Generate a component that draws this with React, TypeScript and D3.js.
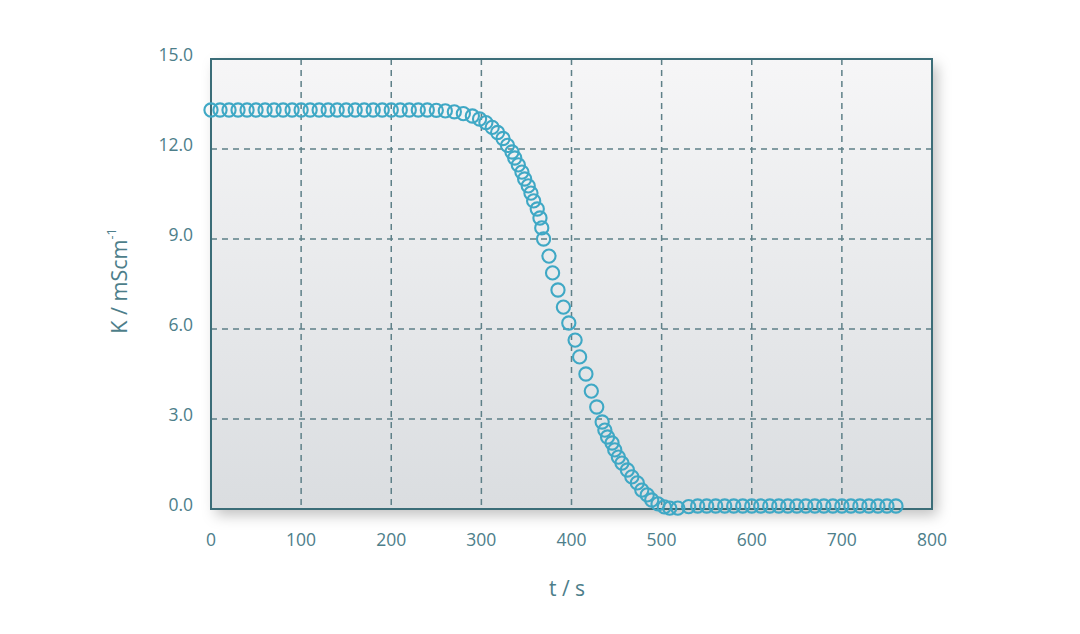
import React from "react";
import * as d3 from "d3";

const xTicks = [0, 100, 200, 300, 400, 500, 600, 700, 800];
const yTicks = [0, 3, 6, 9, 12, 15];

const times = [
  0, 10, 20, 30, 40, 50, 60, 70, 80, 90, 100, 110, 120, 130, 140, 150, 160, 170, 180, 190, 200,
  210, 220, 230, 240, 250, 260, 270, 280, 290, 298, 305, 312, 318, 324, 329, 334, 337, 341, 345,
  348, 352, 355, 358, 362, 365, 367, 369, 375, 379, 385, 391, 397, 404, 409, 416, 422, 428, 434,
  437, 440, 445, 448, 452, 456, 462, 467, 473, 478, 484, 489, 496, 503, 509, 518, 530, 540, 550,
  560, 570, 580, 590, 600, 610, 620, 630, 640, 650, 660, 670, 680, 690, 700, 710, 720, 730, 740,
  750, 760,
];
const conductivity = [
  13.3, 13.3, 13.3, 13.3, 13.3, 13.3, 13.3, 13.3, 13.3, 13.3, 13.3, 13.3, 13.3, 13.3, 13.3, 13.3,
  13.3, 13.3, 13.3, 13.3, 13.3, 13.3, 13.3, 13.3, 13.3, 13.29, 13.27, 13.24, 13.18, 13.1, 13.0,
  12.88, 12.72, 12.55, 12.35, 12.12, 11.9, 11.7, 11.47, 11.23, 11.0, 10.77, 10.53, 10.27, 10.0, 9.7,
  9.37, 9.0, 8.43, 7.87, 7.3, 6.73, 6.2, 5.63, 5.07, 4.5, 3.93, 3.4, 2.9, 2.63, 2.4, 2.2, 1.97,
  1.73, 1.53, 1.3, 1.07, 0.87, 0.63, 0.47, 0.3, 0.17, 0.07, 0.03, 0.03, 0.08, 0.1, 0.1, 0.1, 0.1,
  0.1, 0.1, 0.1, 0.1, 0.1, 0.1, 0.1, 0.1, 0.1, 0.1, 0.1, 0.1, 0.1, 0.1, 0.1, 0.1, 0.1, 0.1, 0.1,
];

const W = 1080;
const H = 634;
const left = 211;
const right = 932;
const top = 59;
const bottom = 509;

const textColor = "#4d7e8a";
const gridColor = "#5e8088";
const borderColor = "#3b6d78";
const pointColor = "#3fa8c5";
const font = "'Open Sans', 'Noto Sans', sans-serif";

export default function App() {
  const x = d3.scaleLinear().domain([0, 800]).range([left, right]);
  const y = d3.scaleLinear().domain([0, 15]).range([bottom, top]);
  const pts = times.map((t, i) => ({ t, k: conductivity[i] }));

  return (
    <svg width={W} height={H} style={{ display: "block", position: "absolute", left: 0, top: 0 }}>
      <defs>
        <linearGradient id="bg" x1="0" y1="0" x2="0" y2="1">
          <stop offset="0" stopColor="#f6f6f7" />
          <stop offset="1" stopColor="#dadde0" />
        </linearGradient>
        <filter id="shadow" x="-10%" y="-10%" width="125%" height="130%">
          <feDropShadow dx="5" dy="6" stdDeviation="7" floodColor="#000" floodOpacity="0.25" />
        </filter>
      </defs>
      <rect x={0} y={0} width={W} height={H} fill="#ffffff" />
      <rect
        x={left}
        y={top}
        width={right - left}
        height={bottom - top}
        fill="url(#bg)"
        filter="url(#shadow)"
      />
      {xTicks.slice(1, -1).map((t) => (
        <line
          key={"gx" + t}
          x1={x(t)}
          x2={x(t)}
          y1={top}
          y2={bottom}
          stroke={gridColor}
          strokeWidth={1.5}
          strokeDasharray="6,5"
        />
      ))}
      {yTicks.slice(1, -1).map((v) => (
        <line
          key={"gy" + v}
          x1={left}
          x2={right}
          y1={y(v)}
          y2={y(v)}
          stroke={gridColor}
          strokeWidth={1.5}
          strokeDasharray="6,5"
        />
      ))}
      <rect
        x={left}
        y={top}
        width={right - left}
        height={bottom - top}
        fill="none"
        stroke={borderColor}
        strokeWidth={2}
      />
      {pts.map((p, i) => (
        <circle
          key={i}
          cx={x(p.t)}
          cy={y(p.k)}
          r={6.6}
          fill="none"
          stroke={pointColor}
          strokeWidth={2.1}
        />
      ))}
      {yTicks.map((v) => (
        <text
          key={"ty" + v}
          x={193}
          y={y(v) - 3}
          textAnchor="end"
          dominantBaseline="middle"
          fontFamily={font}
          fontSize={17.5}
          fill={textColor}
        >
          {v.toFixed(1)}
        </text>
      ))}
      {xTicks.map((t) => (
        <text
          key={"tx" + t}
          x={x(t)}
          y={541}
          textAnchor="middle"
          dominantBaseline="middle"
          fontFamily={font}
          fontSize={17.5}
          fill={textColor}
        >
          {t}
        </text>
      ))}
      <text
        x={567}
        y={590}
        textAnchor="middle"
        dominantBaseline="middle"
        fontFamily={font}
        fontSize={21}
        fill={textColor}
      >
        t / s
      </text>
      <text
        transform={`translate(121, ${(top + bottom) / 2 - 3}) rotate(-90)`}
        textAnchor="middle"
        dominantBaseline="middle"
        fontFamily={font}
        fontSize={21.5}
        fill={textColor}
      >
        K / mScm
        <tspan fontSize={12.5} dy={-8}>
          -1
        </tspan>
      </text>
    </svg>
  );
}
